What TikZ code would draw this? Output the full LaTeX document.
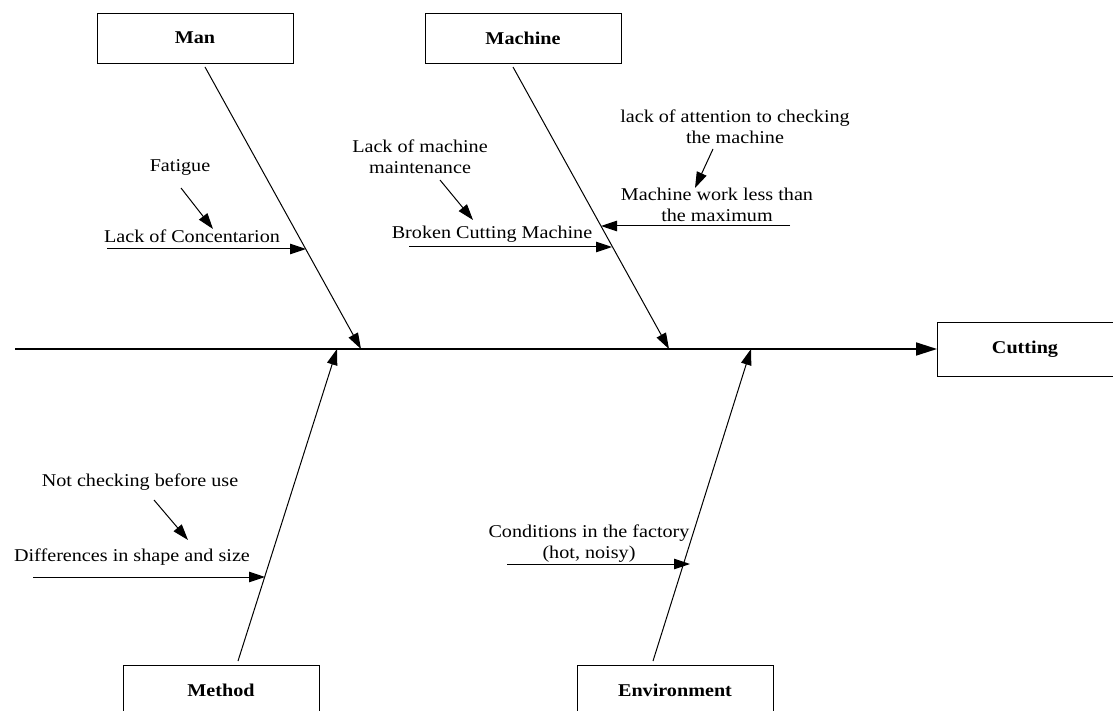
\documentclass[tikz,border=0pt]{standalone}
\usepackage{fontspec}
\setmainfont{Liberation Serif}[FakeStretch=1.12]
\usetikzlibrary{positioning,calc,arrows.meta}

\begin{document}
\begin{tikzpicture}[x=1pt,y=-1pt,
				every node/.style={font=\fontsize{18}{21}\selectfont},
				cat/.style={draw,rectangle,line width=0.8pt,minimum width=196pt,minimum height=50pt,outer sep=0pt,font=\bfseries\fontsize{18}{21}\selectfont},
				lbl/.style={inner sep=0pt,align=center},
				arr/.style={-{Triangle[length=16pt,width=10.5pt]},line width=1pt}]
				\useasboundingbox (0,0) rectangle (1113,711);
				\node[cat] (MAN)     at (195,38)         {Man};
				\node[cat] (MACHINE) [right=132pt of MAN] {Machine};
				\node[cat] (METHOD)  at (221,690)        {Method};
				\node[cat] (ENV)     [right=258pt of METHOD] {Environment};
				\node[cat,minimum width=176pt,minimum height=54pt] (CUT) at (1025,349) {Cutting};
				
				\coordinate (TAIL) at (15,349);
				\coordinate (MANEND)  at (361,349);
				\coordinate (MACHEND) at (669,349);
				\coordinate (METHEND) at (337,349);
				\coordinate (ENVEND)  at (751,349);
				\draw[line width=1.7pt,-{Triangle[length=21pt,width=13pt]}] (TAIL) -- (CUT.west);
				\draw[arr] ([shift={(10,4)}]MAN.south)      -- (MANEND);
				\draw[arr] ([shift={(-10,4)}]MACHINE.south) -- (MACHEND);
				\draw[arr] ([shift={(17,-4)}]METHOD.north)  -- (METHEND);
				\draw[arr] ([shift={(-22,-4)}]ENV.north)    -- (ENVEND);
				
				\node[lbl] (FAT)  at (180,167) {Fatigue};
				\node[lbl] (LCON) at (192,236) {Lack of Concentarion};
				\node[lbl] (LMM)  at (420,157) {Lack of machine\\maintenance};
				\node[lbl] (BCM)  at (492,234) {Broken Cutting Machine};
				\node[lbl] (LAC)  at (735,127) {lack of attention to checking\\the machine};
				\node[lbl] (MWL)  at (717,205) {Machine work less than\\the maximum};
				\node[lbl] (NCB)  at (140,482) {Not checking before use};
				\node[lbl] (DSS)  at (132,557) {Differences in shape and size};
				\node[lbl] (CIF)  at (589,544) {Conditions in the factory\\(hot, noisy)};
				
				\coordinate (FAT1) at (181,188);  \coordinate (FAT2) at (213,229);
				\coordinate (LCON1) at (107,249); \coordinate (LCON2) at (306,249);
				\coordinate (LMM1) at (440,180);  \coordinate (LMM2) at (473,220);
				\coordinate (BCM1) at (409,247);  \coordinate (BCM2) at (612,247);
				\coordinate (LAC1) at (713,149);  \coordinate (LAC2) at (695,188);
				\coordinate (MWL1) at (790,226);  \coordinate (MWL2) at (601,226);
				\coordinate (NCB1) at (154,500);  \coordinate (NCB2) at (188,540);
				\coordinate (DSS1) at (33,577);   \coordinate (DSS2) at (265,577);
				\coordinate (CIF1) at (507,564);  \coordinate (CIF2) at (690,564);
				\foreach \a in {FAT,LCON,LMM,BCM,LAC,MWL,NCB,DSS,CIF}
					\draw[arr] (\a1) -- (\a2);
			\end{tikzpicture}
\end{document}
